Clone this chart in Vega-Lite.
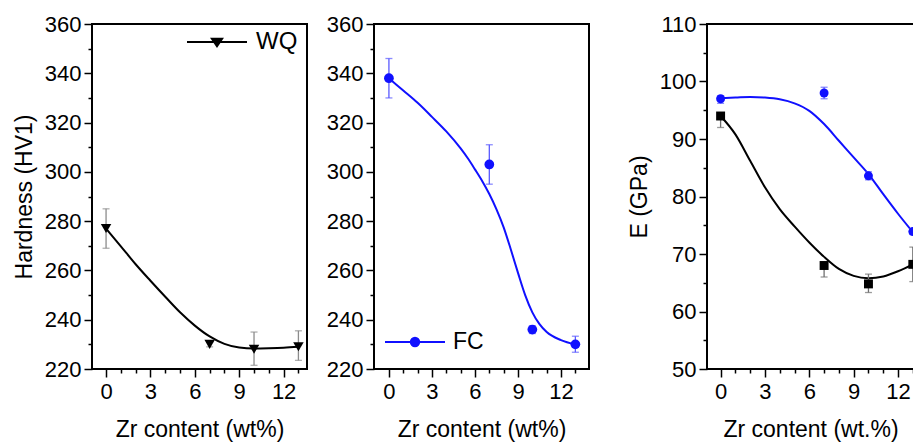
{
  "$schema": "https://vega.github.io/schema/vega-lite/v6.json",
  "padding": {"left": 12, "top": 10, "right": 0, "bottom": 0},
  "datasets": {
    "wq_pts": [
      {"x": 0, "y": 277, "eu": 8, "ed": -8, "s": "WQ"},
      {"x": 7, "y": 230, "eu": 1, "ed": -1, "s": "WQ"},
      {"x": 10, "y": 228, "eu": 7, "ed": -6.5, "s": "WQ"},
      {"x": 13, "y": 229, "eu": 6.5, "ed": -5.5, "s": "WQ"}
    ],
    "wq_curve": [
      {"x": 0, "y": 277}, {"x": 1, "y": 269.8}, {"x": 2, "y": 262.5}, {"x": 3, "y": 255.8},
      {"x": 4, "y": 249.3}, {"x": 5, "y": 243}, {"x": 6, "y": 237.6}, {"x": 7, "y": 233.2},
      {"x": 8, "y": 230.2}, {"x": 9, "y": 228.7}, {"x": 10, "y": 228.3}, {"x": 11, "y": 228.4},
      {"x": 12, "y": 228.6}, {"x": 13, "y": 229}
    ],
    "fc_pts": [
      {"x": 0, "y": 338, "eu": 8, "ed": -8, "s": "FC"},
      {"x": 7, "y": 303, "eu": 8, "ed": -8, "s": "FC"},
      {"x": 10, "y": 236, "eu": 1.6, "ed": -1.6, "s": "FC"},
      {"x": 13, "y": 230, "eu": 3.3, "ed": -3.2, "s": "FC"}
    ],
    "fc_curve": [
      {"x": 0, "y": 338}, {"x": 1, "y": 333}, {"x": 2, "y": 328}, {"x": 3, "y": 322.3},
      {"x": 4, "y": 316.4}, {"x": 5, "y": 309.5}, {"x": 5.5, "y": 305.5}, {"x": 6, "y": 301},
      {"x": 6.5, "y": 296.3}, {"x": 7, "y": 291}, {"x": 7.5, "y": 284.8}, {"x": 8, "y": 277.5},
      {"x": 8.5, "y": 268.5}, {"x": 9, "y": 259}, {"x": 9.5, "y": 250}, {"x": 10, "y": 243},
      {"x": 10.5, "y": 238.2}, {"x": 11, "y": 235}, {"x": 12, "y": 231.7}, {"x": 13, "y": 229.9}
    ],
    "e_black": [
      {"x": 0, "y": 94, "eu": 0.5, "ed": -2},
      {"x": 7, "y": 68, "eu": 0.5, "ed": -2},
      {"x": 10, "y": 64.8, "eu": 1.7, "ed": -1.5},
      {"x": 13, "y": 68.2, "eu": 3, "ed": -3}
    ],
    "e_blue": [
      {"x": 0, "y": 97, "eu": 0.5, "ed": -0.8},
      {"x": 7, "y": 98, "eu": 1, "ed": -1},
      {"x": 10, "y": 83.6, "eu": 0.7, "ed": -0.7},
      {"x": 13, "y": 73.9, "eu": 0.5, "ed": -0.5}
    ],
    "e_black_curve": [
      {"x": 0, "y": 94}, {"x": 1, "y": 90.8}, {"x": 2, "y": 86.2}, {"x": 3, "y": 81.6},
      {"x": 4, "y": 77.8}, {"x": 5, "y": 74.8}, {"x": 6, "y": 72}, {"x": 7, "y": 69.5},
      {"x": 8, "y": 67.4}, {"x": 9, "y": 66.2}, {"x": 10, "y": 65.8}, {"x": 11, "y": 66.1},
      {"x": 12, "y": 67}, {"x": 13, "y": 68.2}
    ],
    "e_blue_curve": [
      {"x": 0, "y": 97.1}, {"x": 1, "y": 97.2}, {"x": 2, "y": 97.3}, {"x": 3, "y": 97.2},
      {"x": 4, "y": 96.9}, {"x": 5, "y": 96.2}, {"x": 6, "y": 94.9}, {"x": 7, "y": 92.6},
      {"x": 8, "y": 89.7}, {"x": 9, "y": 86.8}, {"x": 10, "y": 83.9}, {"x": 11, "y": 80.4},
      {"x": 12, "y": 77}, {"x": 13, "y": 73.8}
    ],
    "blank": [{}]
  },
  "hconcat": [
    {
      "width": 215,
      "height": 345,
      "encoding": {
        "x": {"field": "x", "type": "quantitative", "title": "Zr content (wt%)",
          "scale": {"domain": [-0.95, 13.58], "nice": false, "zero": false},
          "axis": {"values": [0,1,2,3,4,5,6,7,8,9,10,11,12,13],
            "labelExpr": "datum.value % 3 === 0 ? datum.label : ''",
            "tickSize": {"condition": {"test": "datum.value % 3 === 0", "value": 8}, "value": 4}}},
        "y": {"field": "y", "type": "quantitative", "title": "Hardness (HV1)",
          "scale": {"domain": [220, 360], "nice": false, "zero": false},
          "axis": {"values": [220,230,240,250,260,270,280,290,300,310,320,330,340,350,360],
            "labelExpr": "datum.value % 20 === 0 ? datum.label : ''",
            "tickSize": {"condition": {"test": "datum.value % 20 === 0", "value": 8}, "value": 4}}}
      },
      "layer": [
        {"data": {"name": "wq_curve"}, "mark": {"type": "line", "interpolate": "monotone", "color": "black", "strokeWidth": 2}},
        {"data": {"name": "wq_pts"}, "mark": {"type": "errorbar", "ticks": {"size": 7}, "color": "#8c8c8c", "thickness": 1.3},
          "encoding": {"yError": {"field": "eu"}, "yError2": {"field": "ed"}}},
        {"data": {"name": "wq_pts"}, "mark": {"type": "point", "filled": true, "shape": "triangle-down", "size": 110, "opacity": 1},
          "encoding": {"color": {"field": "s", "type": "nominal", "scale": {"range": ["black"]},
            "legend": {"title": null, "orient": "none", "legendX": 94, "legendY": -13,
              "symbolType": "M-1,0H1M-0.17,-0.11H0.17L0,0.14Z", "symbolSize": 3600,
              "symbolStrokeColor": "black", "symbolStrokeWidth": 2, "labelOffset": 8, "labelFontSize": 24}}}}
      ]
    },
    {
      "width": 17, "height": 345, "view": {"stroke": null},
      "data": {"name": "blank"}, "mark": {"type": "text"}, "encoding": {"text": {"value": ""}}
    },
    {
      "width": 215,
      "height": 345,
      "encoding": {
        "x": {"field": "x", "type": "quantitative", "title": "Zr content (wt%)",
          "scale": {"domain": [-1.04, 13.95], "nice": false, "zero": false},
          "axis": {"values": [0,1,2,3,4,5,6,7,8,9,10,11,12,13],
            "labelExpr": "datum.value % 3 === 0 ? datum.label : ''",
            "tickSize": {"condition": {"test": "datum.value % 3 === 0", "value": 8}, "value": 4}}},
        "y": {"field": "y", "type": "quantitative", "title": null,
          "scale": {"domain": [220, 360], "nice": false, "zero": false},
          "axis": {"values": [220,230,240,250,260,270,280,290,300,310,320,330,340,350,360],
            "labelExpr": "datum.value % 20 === 0 ? datum.label : ''",
            "tickSize": {"condition": {"test": "datum.value % 20 === 0", "value": 8}, "value": 4}}}
      },
      "layer": [
        {"data": {"name": "fc_curve"}, "mark": {"type": "line", "interpolate": "monotone", "color": "#1010ff", "strokeWidth": 2}},
        {"data": {"name": "fc_pts"}, "mark": {"type": "errorbar", "ticks": {"size": 7}, "color": "#5a5aff", "thickness": 1.3},
          "encoding": {"yError": {"field": "eu"}, "yError2": {"field": "ed"}}},
        {"data": {"name": "fc_pts"}, "mark": {"type": "point", "filled": true, "shape": "circle", "size": 95, "opacity": 1},
          "encoding": {"color": {"field": "s", "type": "nominal", "scale": {"range": ["#1010ff"]},
            "legend": {"title": null, "orient": "none", "legendX": 10, "legendY": 287,
              "symbolType": "M-1,0H1M-0.14,0A0.14,0.14,0,1,0,0.14,0A0.14,0.14,0,1,0,-0.14,0Z", "symbolSize": 3600,
              "symbolStrokeColor": "#1010ff", "symbolStrokeWidth": 2, "labelOffset": 7, "labelFontSize": 23}}}}
      ]
    },
    {
      "width": 68, "height": 345, "view": {"stroke": null},
      "data": {"name": "blank"}, "mark": {"type": "text"}, "encoding": {"text": {"value": ""}}
    },
    {
      "width": 207,
      "height": 345,
      "encoding": {
        "x": {"field": "x", "type": "quantitative", "title": "Zr content (wt.%)",
          "scale": {"domain": [-0.92, 13.08], "nice": false, "zero": false},
          "axis": {"values": [0,1,2,3,4,5,6,7,8,9,10,11,12,13],
            "labelExpr": "datum.value % 3 === 0 ? datum.label : ''",
            "tickSize": {"condition": {"test": "datum.value % 3 === 0", "value": 8}, "value": 4}}},
        "y": {"field": "y", "type": "quantitative", "title": "E (GPa)",
          "scale": {"domain": [50, 110], "nice": false, "zero": false},
          "axis": {"values": [50,55,60,65,70,75,80,85,90,95,100,105,110],
            "labelExpr": "datum.value % 10 === 0 ? datum.label : ''",
            "tickSize": {"condition": {"test": "datum.value % 10 === 0", "value": 8}, "value": 4}}}
      },
      "layer": [
        {"data": {"name": "e_black_curve"}, "mark": {"type": "line", "interpolate": "monotone", "color": "black", "strokeWidth": 2}},
        {"data": {"name": "e_blue_curve"}, "mark": {"type": "line", "interpolate": "monotone", "color": "#1010ff", "strokeWidth": 2}},
        {"data": {"name": "e_black"}, "mark": {"type": "errorbar", "ticks": {"size": 7}, "color": "#707070", "thickness": 1.3},
          "encoding": {"yError": {"field": "eu"}, "yError2": {"field": "ed"}}},
        {"data": {"name": "e_blue"}, "mark": {"type": "errorbar", "ticks": {"size": 7}, "color": "#5a5aff", "thickness": 1.3},
          "encoding": {"yError": {"field": "eu"}, "yError2": {"field": "ed"}}},
        {"data": {"name": "e_black"}, "mark": {"type": "point", "filled": true, "shape": "square", "size": 80, "opacity": 1, "color": "black"}},
        {"data": {"name": "e_blue"}, "mark": {"type": "point", "filled": true, "shape": "circle", "size": 80, "opacity": 1, "color": "#1010ff"}},
        {"data": {"name": "blank"}, "mark": {"type": "text", "font": "Liberation Sans", "fontSize": 21, "color": "black"},
          "encoding": {"x": {"datum": 6.1}, "y": {"datum": 106.6}, "text": {"value": "2715-xZr"}}}
      ]
    }
  ],
  "spacing": 25,
  "bounds": "flush",
  "resolve": {"scale": {"color": "independent"}, "legend": {"color": "independent"}},
  "config": {
    "view": {"stroke": "black", "strokeWidth": 2},
    "font": "Liberation Sans",
    "axis": {"domain": false, "grid": false, "labelFont": "Liberation Sans", "titleFont": "Liberation Sans",
      "labelFontSize": 22, "titleFontSize": 23, "titleFontWeight": "normal", "labelColor": "black", "titleColor": "black",
      "tickColor": "black", "tickWidth": 1.5, "labelOverlap": false, "labelFlush": false},
    "axisX": {"labelPadding": 4, "titlePadding": 16},
    "axisY": {"labelPadding": 3, "titlePadding": 8},
    "legend": {"labelFont": "Liberation Sans", "labelFontSize": 22, "labelColor": "black", "padding": 0}
  }
}
